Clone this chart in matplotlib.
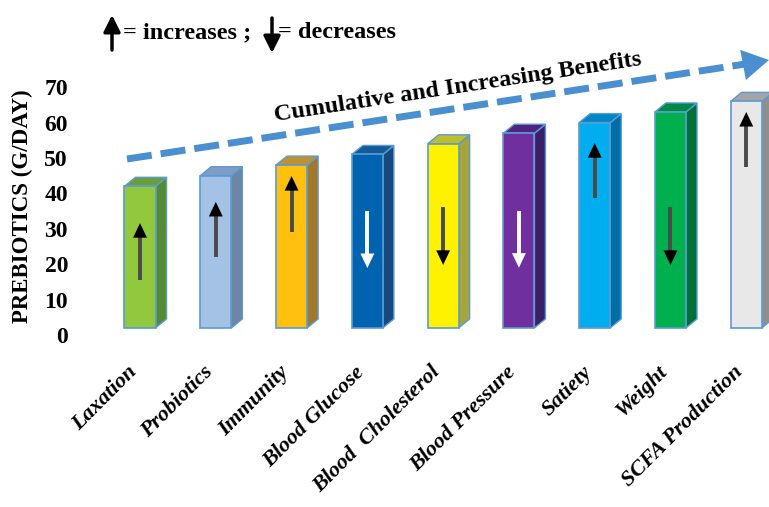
import matplotlib
matplotlib.use('Agg')
import matplotlib.pyplot as plt
import matplotlib.transforms as mtransforms
from matplotlib.patches import Polygon
from matplotlib.lines import Line2D

plt.rcParams['font.family'] = ['Liberation Serif', 'DejaVu Serif']

# data
benefits = ['Laxation', 'Probiotics', 'Immunity', 'Blood Glucose', 'Blood  Cholesterol',
            'Blood Pressure', 'Satiety', 'Weight', 'SCFA Production']
prebiotics = [42, 45, 48, 51, 54, 57, 60, 63, 66]   # g/day
arrow_from = [15.5, 22.0, 29.1, 34.9, 36.2, 34.9, 38.7, 36.2, 47.5]
arrow_to = [31.6, 37.6, 44.9, 18.9, 19.8, 19.0, 54.2, 19.8, 63.0]
arrow_colors = ['black', 'black', 'black', 'white', 'black', 'white', 'black', 'black', 'black']

# front, side, top colours of each bar
front = ['#92C83E', '#A4C2E6', '#FFC010', '#0063B0', '#FFF200', '#6F2F9F', '#00AEEF', '#00B04F', '#E8E8E8']
side = ['#548B32', '#6D86A6', '#A3782A', '#174A7C', '#A8A43A', '#3A1F66', '#006FA5', '#007038', '#8F8F8F']
top = ['#6B9E3A', '#7E9CC4', '#C0922E', '#165A96', '#BFBF2E', '#4E2480', '#0086C4', '#008A40', '#A5A5A5']
edge = '#5B9BD5'

W, H = 769, 507
fig = plt.figure(figsize=(W / 100, H / 100), dpi=100)


def px(x, y):
    # image pixel -> figure fraction
    return x / W, 1 - y / H


ax = fig.add_axes([100 / W, 1 - 340 / H, 669 / W, 290 / H])
ax.set_xlim(-0.528, 8.30)
ax.set_ylim(-1.41, 80.5)
for s in ax.spines.values():
    s.set_visible(False)

width = 0.41
dx, dy = 0.145, 2.54
base = 2.0
xs = list(range(len(benefits)))

ax.bar(xs, [v - base for v in prebiotics], width, bottom=base, color=front,
       edgecolor=edge, linewidth=1.2, zorder=3)
for i, v in enumerate(prebiotics):
    r = i + width / 2
    l = i - width / 2
    ax.add_patch(Polygon([(r, base), (r + dx, base + dy), (r + dx, v + dy), (r, v)],
                         closed=True, facecolor=side[i], edgecolor=edge, lw=1.0, zorder=2))
    ax.add_patch(Polygon([(l, v), (r, v), (r + dx, v + dy), (l + dx, v + dy)],
                         closed=True, facecolor=top[i], edgecolor=edge, lw=1.0, zorder=2))
    sign = 1 if arrow_to[i] > arrow_from[i] else -1
    shaft = '#4a4a4a' if arrow_colors[i] == 'black' else 'white'
    ax.plot([i, i], [arrow_from[i], arrow_to[i] - 2.5 * sign],
            color=shaft, lw=2.8, solid_capstyle='butt', zorder=5)
    ax.annotate('', xy=(i, arrow_to[i]), xytext=(i, arrow_to[i] - 4 * sign),
                arrowprops=dict(arrowstyle='-|>,head_width=0.5,head_length=1.05',
                                color=arrow_colors[i], lw=0, shrinkA=0, shrinkB=0,
                                mutation_scale=10), zorder=6)

ax.set_yticks(range(0, 80, 10))
ax.tick_params(axis='y', length=0, pad=23, labelsize=17)
for t in ax.get_yticklabels():
    t.set_fontweight('bold')
ax.set_xticks(xs)
ax.set_xticklabels(benefits, rotation=45, ha='right', va='center',
                   rotation_mode='anchor', fontsize=16, fontweight='bold', fontstyle='italic')
ax.tick_params(axis='x', length=0, pad=21)
shift = mtransforms.ScaledTranslation(-6 / 100, 0, fig.dpi_scale_trans)
for t in ax.get_xticklabels():
    t.set_transform(t.get_transform() + shift)

fig.text(*px(22, 206), 'PREBIOTICS (G/DAY)', rotation=90, ha='center', va='center',
         fontsize=16.5, fontweight='bold')

# legend of arrows at the top
head = dict(arrowstyle='-|>,head_width=0.5,head_length=1.0', color='black', lw=2.5,
            shrinkA=0, shrinkB=0, mutation_scale=10)
fig.add_artist(plt.Annotation('', xy=px(112, 15), xytext=px(112, 50),
                              xycoords='figure fraction', textcoords='figure fraction',
                              arrowprops=head))
fig.add_artist(plt.Annotation('', xy=px(272, 53), xytext=px(272, 18),
                              xycoords='figure fraction', textcoords='figure fraction',
                              arrowprops=head))
fig.text(*px(123, 33), '= increases ;', ha='left', va='center', fontsize=17.5, fontweight='bold')
fig.text(*px(278, 33), '= decreases', ha='left', va='center', fontsize=17.5, fontweight='bold')

# dashed trend arrow
x0, y0 = px(127, 159)
x1, y1 = px(752, 63)
fig.add_artist(Line2D([x0, x1], [y0, y1], transform=fig.transFigure, color='#4A90D0',
                      lw=5, dashes=(3.6, 1.3), solid_capstyle='butt', dash_capstyle='butt'))
fig.add_artist(plt.Annotation('', xy=px(769, 60), xytext=px(748, 64),
                              xycoords='figure fraction', textcoords='figure fraction',
                              arrowprops=dict(arrowstyle='-|>,head_width=0.55,head_length=0.95',
                                              color='#4A90D0', lw=0, shrinkA=0, shrinkB=0,
                                              mutation_scale=20)))
fig.text(*px(458, 88), 'Cumulative and Increasing Benefits', rotation=8.7, rotation_mode='anchor',
         ha='center', va='center', fontsize=17.5, fontweight='bold')

fig.savefig('out.png', dpi=100)
